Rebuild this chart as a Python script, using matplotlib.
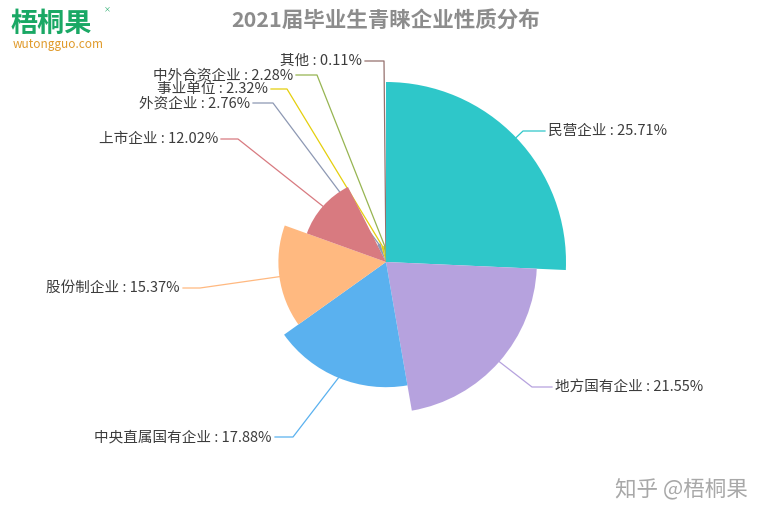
import numpy as np
import matplotlib
import matplotlib.pyplot as plt

matplotlib.rcParams['font.family'] = ['Noto Sans CJK SC', 'DejaVu Sans']

W, H = 769, 521

# data
categories = ['民营企业', '地方国有企业', '中央直属国有企业', '股份制企业', '上市企业',
              '外资企业', '事业单位', '中外合资企业', '其他']
shares = [25.71, 21.55, 17.88, 15.37, 12.02, 2.76, 2.32, 2.28, 0.11]
colors = ['#2ec7c9', '#b6a2de', '#5ab1ef', '#ffb980', '#d87a80',
          '#8d98b3', '#e5cf0d', '#97b552', '#95706d']

# label layout in pixels: elbow point, end of horizontal line, side
elbows = [(523, 131), (532, 387), (293, 437), (200, 288), (238, 139),
          (273, 103), (287, 89), (317, 75), (384, 61)]
line_ends = [(545, 131), (552, 387), (275, 437), (183, 288), (221, 139),
             (253, 103), (271, 89), (296, 75), (365, 61)]
sides = ['right', 'right', 'left', 'left', 'left', 'left', 'left', 'left', 'left']

center = (386, 262)
rmax = 180

fig = plt.figure(figsize=(W / 100, H / 100), dpi=100)
ax = fig.add_axes([0, 0, 1, 1])

# y axis inverted below, so startangle=-90 / counterclock=True is top / clockwise on screen
wedges, _ = ax.pie(shares, colors=colors, startangle=-90, counterclock=True,
                   center=center, radius=rmax, wedgeprops=dict(linewidth=0))
for w, v in zip(wedges, shares):
    w.set_radius(rmax * v / max(shares))
    w.set_zorder(3)

ax.set_xlim(0, W)
ax.set_ylim(H, 0)
ax.set_aspect('equal')
ax.axis('off')

for w, name, v, c, e, le, side in zip(wedges, categories, shares, colors, elbows, line_ends, sides):
    mid = np.deg2rad((w.theta1 + w.theta2) / 2)
    r = w.r
    x0 = center[0] + r * np.cos(mid)
    y0 = center[1] + r * np.sin(mid)
    ax.plot([x0, e[0], le[0]], [y0, e[1], le[1]], color=c, lw=0.9, zorder=2)
    if side == 'right':
        ax.text(le[0] + 3, le[1], f'{name} : {v:.2f}%', ha='left', va='center',
                fontsize=10.5, color='#3c3c3c', zorder=4)
    else:
        ax.text(le[0] - 3, le[1], f'{name} : {v:.2f}%', ha='right', va='center',
                fontsize=10.5, color='#3c3c3c', zorder=4)

# title
fig.text(386 / W, 1 - 20 / H, '2021届毕业生青睐企业性质分布', ha='center', va='center',
         fontsize=15.5, fontweight='bold', color='#8c8c8c')

# logo
fig.text(11 / W, 1 - 32 / H, '梧桐果', ha='left', va='baseline', fontsize=19.5,
         fontweight='bold', color='#1aa865')
fig.text(13 / W, 1 - 48 / H, 'wutongguo.com', ha='left', va='baseline', fontsize=8.5,
         color='#e09a2a')
fig.text(107 / W, 1 - 9 / H, '×', ha='center', va='center', fontsize=5,
         color='#1aa865')

# watermark
fig.text(748 / W, 1 - 490 / H, '知乎 @梧桐果', ha='right', va='center', fontsize=15.5,
         color='#a8a8a8')

fig.savefig('out.png', dpi=100, facecolor='white')
